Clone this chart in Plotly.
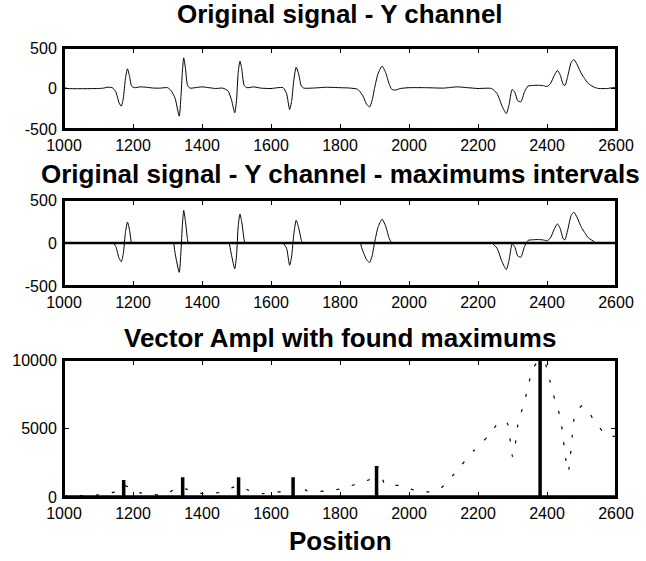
import plotly.graph_objects as go

# ---------------- data ----------------
sig_x = [1000, 1005, 1010, 1100, 1115, 1125, 1140, 1150, 1160, 1166, 1172, 1178, 1184, 1190, 1196,
         1205, 1220, 1240, 1260, 1280, 1300, 1311, 1322, 1334, 1339, 1343, 1347, 1352, 1358, 1365,
         1380, 1400, 1420, 1440, 1460, 1476, 1486, 1495, 1500, 1505, 1510, 1515, 1522, 1530, 1550,
         1570, 1600, 1620, 1635, 1645, 1654, 1660, 1666, 1673, 1680, 1688, 1695, 1720, 1760, 1800,
         1830, 1851, 1865, 1878, 1886, 1893, 1900, 1910, 1922, 1932, 1943, 1950, 1960, 1975, 2000,
         2050, 2100, 2140, 2170, 2200, 2239, 2255, 2270, 2282, 2290, 2299, 2307, 2315, 2324, 2335,
         2345, 2357, 2375, 2390, 2400, 2410, 2422, 2430, 2438, 2447, 2452, 2460, 2470, 2478, 2488,
         2500, 2509, 2520, 2537, 2550, 2575, 2590, 2600]
sig_y = [0, 8, 0, 0, 5, 15, 10, -40, -180, -218, -120, 120, 243, 150, 30,
         10, 20, 15, 5, 5, 10, -30, -120, -341, -100, 200, 379, 250, 40, 5,
         10, 20, 10, 0, 5, -33, -150, -300, -150, 200, 337, 250, 40, 10, 20,
         5, 0, 10, 10, -60, -259, -150, 100, 263, 180, 30, 5, 5, 15, 10,
         5, -10, -80, -200, -226, -150, 0, 180, 276, 200, 50, -10, -20, 0, 10,
         10, 5, 20, 10, 0, 0, -60, -220, -309, -200, -12, -50, -150, -165, -40,
         30, 37, 40, 35, 25, 60, 170, 222, 170, 50, 37, 150, 320, 358, 290,
         180, 123, 60, 15, 0, 0, 10, 10]

# intervals around maximums (start, end)
int_start = [1143, 1318, 1479, 1635, 1859, 2241]
int_end = [1195, 1360, 1524, 1690, 1950, 2541]

# Vector Ampl
amp_x = [1000, 1040, 1070, 1100, 1130, 1150, 1165, 1175, 1190, 1205, 1221, 1250, 1275, 1300, 1323,
         1340, 1358, 1380, 1410, 1440, 1456, 1480, 1500, 1510, 1530, 1550, 1575, 1604, 1630, 1652,
         1670, 1690, 1704, 1730, 1754, 1780, 1803, 1830, 1852, 1870, 1888, 1910, 1920, 1930, 1950,
         1974, 2000, 2021, 2050, 2073, 2095, 2116, 2152, 2187, 2228, 2260, 2278, 2286, 2294, 2300,
         2310, 2317, 2334, 2345, 2360, 2372, 2385, 2395, 2409, 2422, 2438, 2446, 2452, 2462, 2468,
         2473, 2479, 2490, 2502, 2520, 2535, 2570, 2600]
amp_y = [60, 80, 120, 150, 250, 400, 460, 825, 700, 400, 300, 200, 150, 250, 620,
         650, 550, 300, 250, 300, 350, 600, 800, 800, 550, 350, 250, 300, 400, 600,
         1000, 750, 450, 400, 430, 500, 600, 800, 1000, 1150, 1300, 2200, 1600, 900, 850,
         850, 650, 430, 380, 390, 700, 1240, 2336, 3358, 4404, 5426, 5550, 5328, 3990, 2943,
         4160, 5547, 6836, 8100, 9392, 9850, 10000, 9757, 8418, 7153, 5864, 4526, 3114, 1849, 3066,
         4404, 5791, 6400, 6667, 6300, 5620, 4574, 4400]

max_pos = [1173, 1344, 1506, 1664, 1906, 2380]
max_val = [1241, 1435, 1435, 1435, 2263, 10000]

X_MIN, X_MAX = 1000, 2600
x_ticks = [1000, 1200, 1400, 1600, 1800, 2000, 2200, 2400, 2600]
y_ticks_sig = [-500, 0, 500]
y_ticks_amp = [0, 5000, 10000]

titles = ["Original signal - Y channel",
          "Original signal - Y channel - maximums intervals",
          "Vector Ampl with found maximums"]
x_label = "Position"

# ---------------- figure ----------------
W, H = 646, 561
ML, MR, MT, MB = 64, 19, 48, 64
ph = H - MT - MB

def dom(top_px, bot_px):
    return [(H - MB - bot_px) / ph, (H - MB - top_px) / ph]

fig = go.Figure()

fig.add_trace(go.Scatter(x=sig_x, y=sig_y, mode="lines", line=dict(color="black", width=1, shape="spline", smoothing=0.6),
                         xaxis="x", yaxis="y", showlegend=False, hoverinfo="skip"))

fig.add_trace(go.Scatter(x=[X_MIN, X_MAX], y=[0, 0], mode="lines", line=dict(color="black", width=2.5),
                         xaxis="x2", yaxis="y2", showlegend=False, hoverinfo="skip"))
m_x, m_y = [], []
for s, e in zip(int_start, int_end):
    m_x.append(s); m_y.append(0)
    for xv, yv in zip(sig_x, sig_y):
        if s < xv < e:
            m_x.append(xv); m_y.append(yv)
    m_x.append(e); m_y.append(0)
    m_x.append(None); m_y.append(None)
fig.add_trace(go.Scatter(x=m_x, y=m_y, mode="lines", line=dict(color="black", width=1, shape="spline", smoothing=0.6),
                         xaxis="x2", yaxis="y2", showlegend=False, hoverinfo="skip", connectgaps=False))

fig.add_trace(go.Scatter(x=amp_x, y=amp_y, mode="lines", line=dict(color="black", width=1.2, dash="3px,13px", shape="spline", smoothing=0.5),
                         xaxis="x3", yaxis="y3", showlegend=False, hoverinfo="skip"))
st_x, st_y = [X_MIN], [0]
for p, v in zip(max_pos, max_val):
    st_x += [p, p, p]
    st_y += [0, v, 0]
st_x.append(X_MAX); st_y.append(0)
fig.add_trace(go.Scatter(x=st_x, y=st_y, mode="lines", line=dict(color="black", width=3.5),
                         xaxis="x3", yaxis="y3", showlegend=False, hoverinfo="skip"))

tickfont = dict(family="Liberation Sans, Arial, sans-serif", size=16, color="black")
axcommon = dict(showline=True, linecolor="black", linewidth=2, mirror="ticks", ticks="inside",
                ticklen=5, tickwidth=1, tickcolor="black", showgrid=False, zeroline=False,
                tickfont=tickfont)

layout = dict(width=W, height=H, margin=dict(l=ML, r=MR, t=MT, b=MB),
              paper_bgcolor="white", plot_bgcolor="white")

doms = [dom(48, 129), dom(200, 286), dom(360, 497)]
for i, (d, yt, yr) in enumerate(zip(doms, [y_ticks_sig, y_ticks_sig, y_ticks_amp],
                                       [[-500, 500], [-500, 500], [0, 10000]])):
    sfx = "" if i == 0 else str(i + 1)
    layout["xaxis" + sfx] = dict(axcommon, domain=[0, 1], range=[X_MIN, X_MAX], tickvals=x_ticks,
                                 ticktext=[str(v) for v in x_ticks], anchor="y" + sfx,
                                 ticklabelstandoff=1)
    layout["yaxis" + sfx] = dict(axcommon, domain=d, range=yr, tickvals=yt,
                                 ticktext=[str(v) for v in yt], anchor="x" + sfx,
                                 ticklabelstandoff=2)

fig.update_layout(**layout)

# axes box (frame) for each subplot, in paper coordinates
for d in doms:
    fig.add_shape(type="rect", xref="paper", yref="paper",
                  x0=0, x1=1, y0=d[0], y1=d[1], line=dict(color="black", width=2),
                  fillcolor="rgba(0,0,0,0)", layer="above")

title_font = dict(family="Liberation Sans, Arial, sans-serif", size=26, color="black")
title_y_px = [14, 174, 338]
for t, ypx in zip(titles, title_y_px):
    fig.add_annotation(text="<b>%s</b>" % t, xref="paper", yref="paper", x=0.5, y=(H - MB - ypx) / ph,
                       xanchor="center", yanchor="middle", showarrow=False, font=title_font)
fig.add_annotation(text="<b>%s</b>" % x_label, xref="paper", yref="paper", x=0.5, y=(H - MB - 541) / ph,
                   xanchor="center", yanchor="middle", showarrow=False, font=title_font)

fig.write_html("out.html")
